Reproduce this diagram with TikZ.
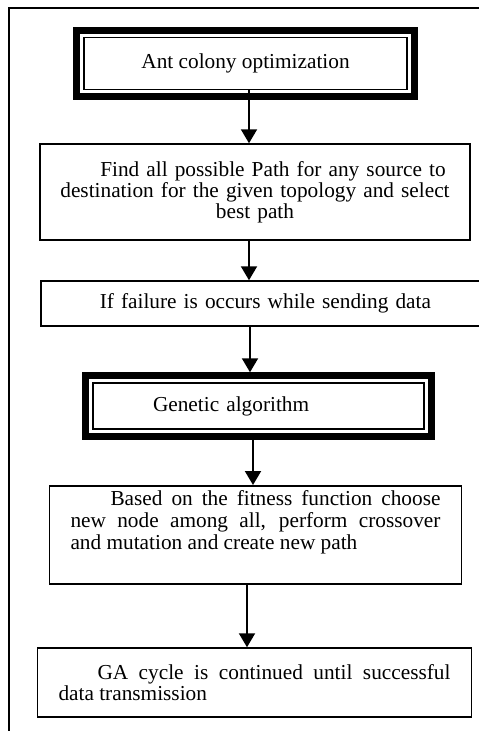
\documentclass[tikz,border=0pt]{standalone}
\usepackage{fontspec}
\setmainfont{Liberation Serif}
\usetikzlibrary{arrows.meta,calc}

\tikzset{
  stepbox/.style={draw, line width=1.5pt, font=\fontsize{21.3}{20.8}\selectfont, inner ysep=2pt},
  bandbox/.style={draw, line width=7pt},
  flowarrow/.style={line width=2pt, -{Triangle[width=16pt,length=14pt]}},
}

\begin{document}
\begin{tikzpicture}[x=1pt,y=-1pt]
  \useasboundingbox (0,0) rectangle (479,731);
  % outer frame, its right and bottom sides run off the page
  \coordinate (FrameBottom) at (8.7,745);
  \coordinate (FrameCorner) at (8.7,7.8);
  \coordinate (FrameRight)  at (495,7.8);
  \draw[line width=2pt] (FrameBottom) -- (FrameCorner) -- (FrameRight);

  % columns of the arrows
  \coordinate (ColA) at (249,0);
  \coordinate (ColB) at (249,0);
  \coordinate (ColC) at (250,0);
  \coordinate (ColD) at (253,0);
  \coordinate (ColE) at (247,0);

  \node[stepbox, minimum width=323pt, minimum height=52pt] (AntColony) at (245.5,63.5)
    {Ant colony optimization};
  \draw[bandbox] ([shift={(-6.5,-6.5)}]AntColony.north west)
    rectangle ([shift={(6.5,6.5)}]AntColony.south east);

  \node[stepbox, minimum width=430pt, minimum height=96pt, text width=392pt, align=center] (FindPath) at (255,192)
    {\hspace*{36pt}Find all possible Path for any source to\\ destination for the given topology and select\\ best path};

  \node[stepbox, anchor=west, text width=380pt, align=left, inner xsep=59pt, minimum height=45pt] (Failure) at (40,303.5)
    {If failure is occurs while sending data};

  \node[stepbox, text width=211pt, align=left, inner xsep=60pt, minimum height=46pt] (Genetic) at (258.5,406)
    {Genetic algorithm};
  \draw[bandbox] ([shift={(-6.5,-6.5)}]Genetic.north west)
    rectangle ([shift={(6.5,6.5)}]Genetic.south east);

  \node[stepbox, anchor=north, font=\fontsize{21.3}{22}\selectfont, text width=370pt, align=justify, inner xsep=21pt, inner ysep=5pt, text depth=73pt] (Crossover) at (255.5,485)
    {\hspace*{40pt}Based on the fitness function choose\linebreak new node among all, perform crossover\linebreak and mutation and create new path};

  \node[stepbox, text width=392pt, align=justify, inner xsep=21pt, minimum height=69pt] (GACycle) at (254.5,682.5)
    {\hspace*{39pt}GA cycle is continued until successful\linebreak data transmission};

  % connectors
  \draw[flowarrow] (ColA |- AntColony.south) -- (ColA |- FindPath.north);
  \draw[flowarrow] (ColB |- FindPath.south) -- (ColB |- Failure.north);
  \draw[flowarrow] (ColC |- Failure.south) -- ($(ColC |- Genetic.north)+(0,-10)$);
  \draw[flowarrow] ($(ColD |- Genetic.south)+(0,10)$) -- (ColD |- Crossover.north);
  \draw[flowarrow] (ColE |- Crossover.south) -- (ColE |- GACycle.north);
\end{tikzpicture}
\end{document}
